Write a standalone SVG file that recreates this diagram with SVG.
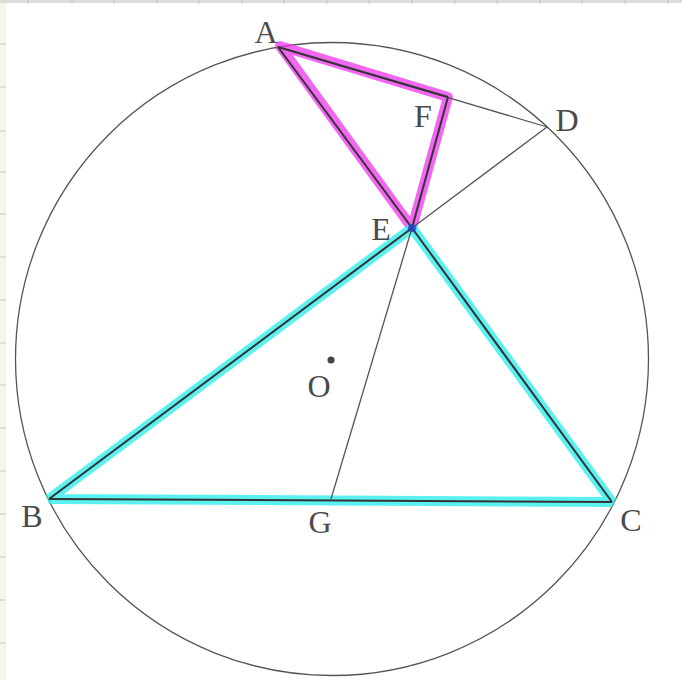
<svg xmlns="http://www.w3.org/2000/svg" width="682" height="680" viewBox="0 0 682 680">
<style>
.ln{stroke:#555;stroke-width:1.3;fill:none}
.dk{stroke:#333;stroke-width:2;fill:none}
.pk{stroke:#ee33ee;stroke-opacity:0.75;stroke-width:10;stroke-linecap:round;stroke-linejoin:round;fill:none}
.cy{stroke:#33eeee;stroke-opacity:0.8;stroke-width:10;stroke-linecap:butt;stroke-linejoin:bevel;fill:none}
.lb{font-family:"Liberation Serif","DejaVu Serif",serif;font-size:32px;fill:#4a4a4a;text-anchor:middle}
.tk{stroke:#c8c8c0;stroke-width:1}
</style>
<rect x="0" y="0" width="682" height="680" fill="#ffffff"/>
<g id="frame">
<rect x="0" y="0" width="6" height="680" fill="#f6f4e6"/>
<rect x="0" y="0" width="682" height="3" fill="#dcdcd8"/>
<path class="tk" d="M0 44h6M0 87h6M0 131h6M0 172h6M0 214h6M0 257h6M0 300h6M0 343h6M0 385h6M0 428h6M0 471h6M0 514h6M0 557h6M0 600h6M0 643h6"/>
<path class="tk" d="M28 0v4M72 0v4M114 0v4M157 0v4M199 0v4M242 0v4M284 0v4M327 0v4M369 0v4M412 0v4M455 0v4M497 0v4M540 0v4M582 0v4M625 0v4M668 0v4"/>
</g>
<g id="circle">
<circle cx="332" cy="359" r="316.5" class="ln"/>
</g>
<g id="highlights">
<polygon class="pk" points="280,46 448,97 412,228"/>
<polygon class="cy" points="49,499 412,228 612,502"/>
</g>
<g id="connectors">
<line class="ln" x1="278" y1="47" x2="547" y2="127"/>
<line class="ln" x1="547" y1="127" x2="412" y2="228"/>
<line class="ln" x1="412" y1="228" x2="331" y2="499"/>
<line class="dk" x1="278" y1="47" x2="448" y2="97"/>
<line class="dk" x1="448" y1="97" x2="412" y2="228"/>
<line class="dk" x1="412" y1="228" x2="278" y2="47"/>
<line class="dk" x1="49" y1="499" x2="412" y2="228"/>
<line class="dk" x1="412" y1="228" x2="612" y2="502"/>
<line class="dk" x1="49" y1="499" x2="612" y2="502"/>
</g>
<g id="O"><circle cx="331" cy="360" r="3.5" fill="#444"/><text class="lb" x="319" y="397">O</text></g>
<g id="A"><text class="lb" x="266" y="43">A</text></g>
<g id="D"><text class="lb" x="567" y="131">D</text></g>
<g id="F"><text class="lb" x="423" y="127">F</text></g>
<g id="E"><circle cx="412" cy="228" r="4" fill="#2244cc" fill-opacity="0.8"/><text class="lb" x="381" y="240">E</text></g>
<g id="B"><text class="lb" x="32" y="527">B</text></g>
<g id="G"><text class="lb" x="320" y="533">G</text></g>
<g id="C"><text class="lb" x="631" y="531">C</text></g>
</svg>
